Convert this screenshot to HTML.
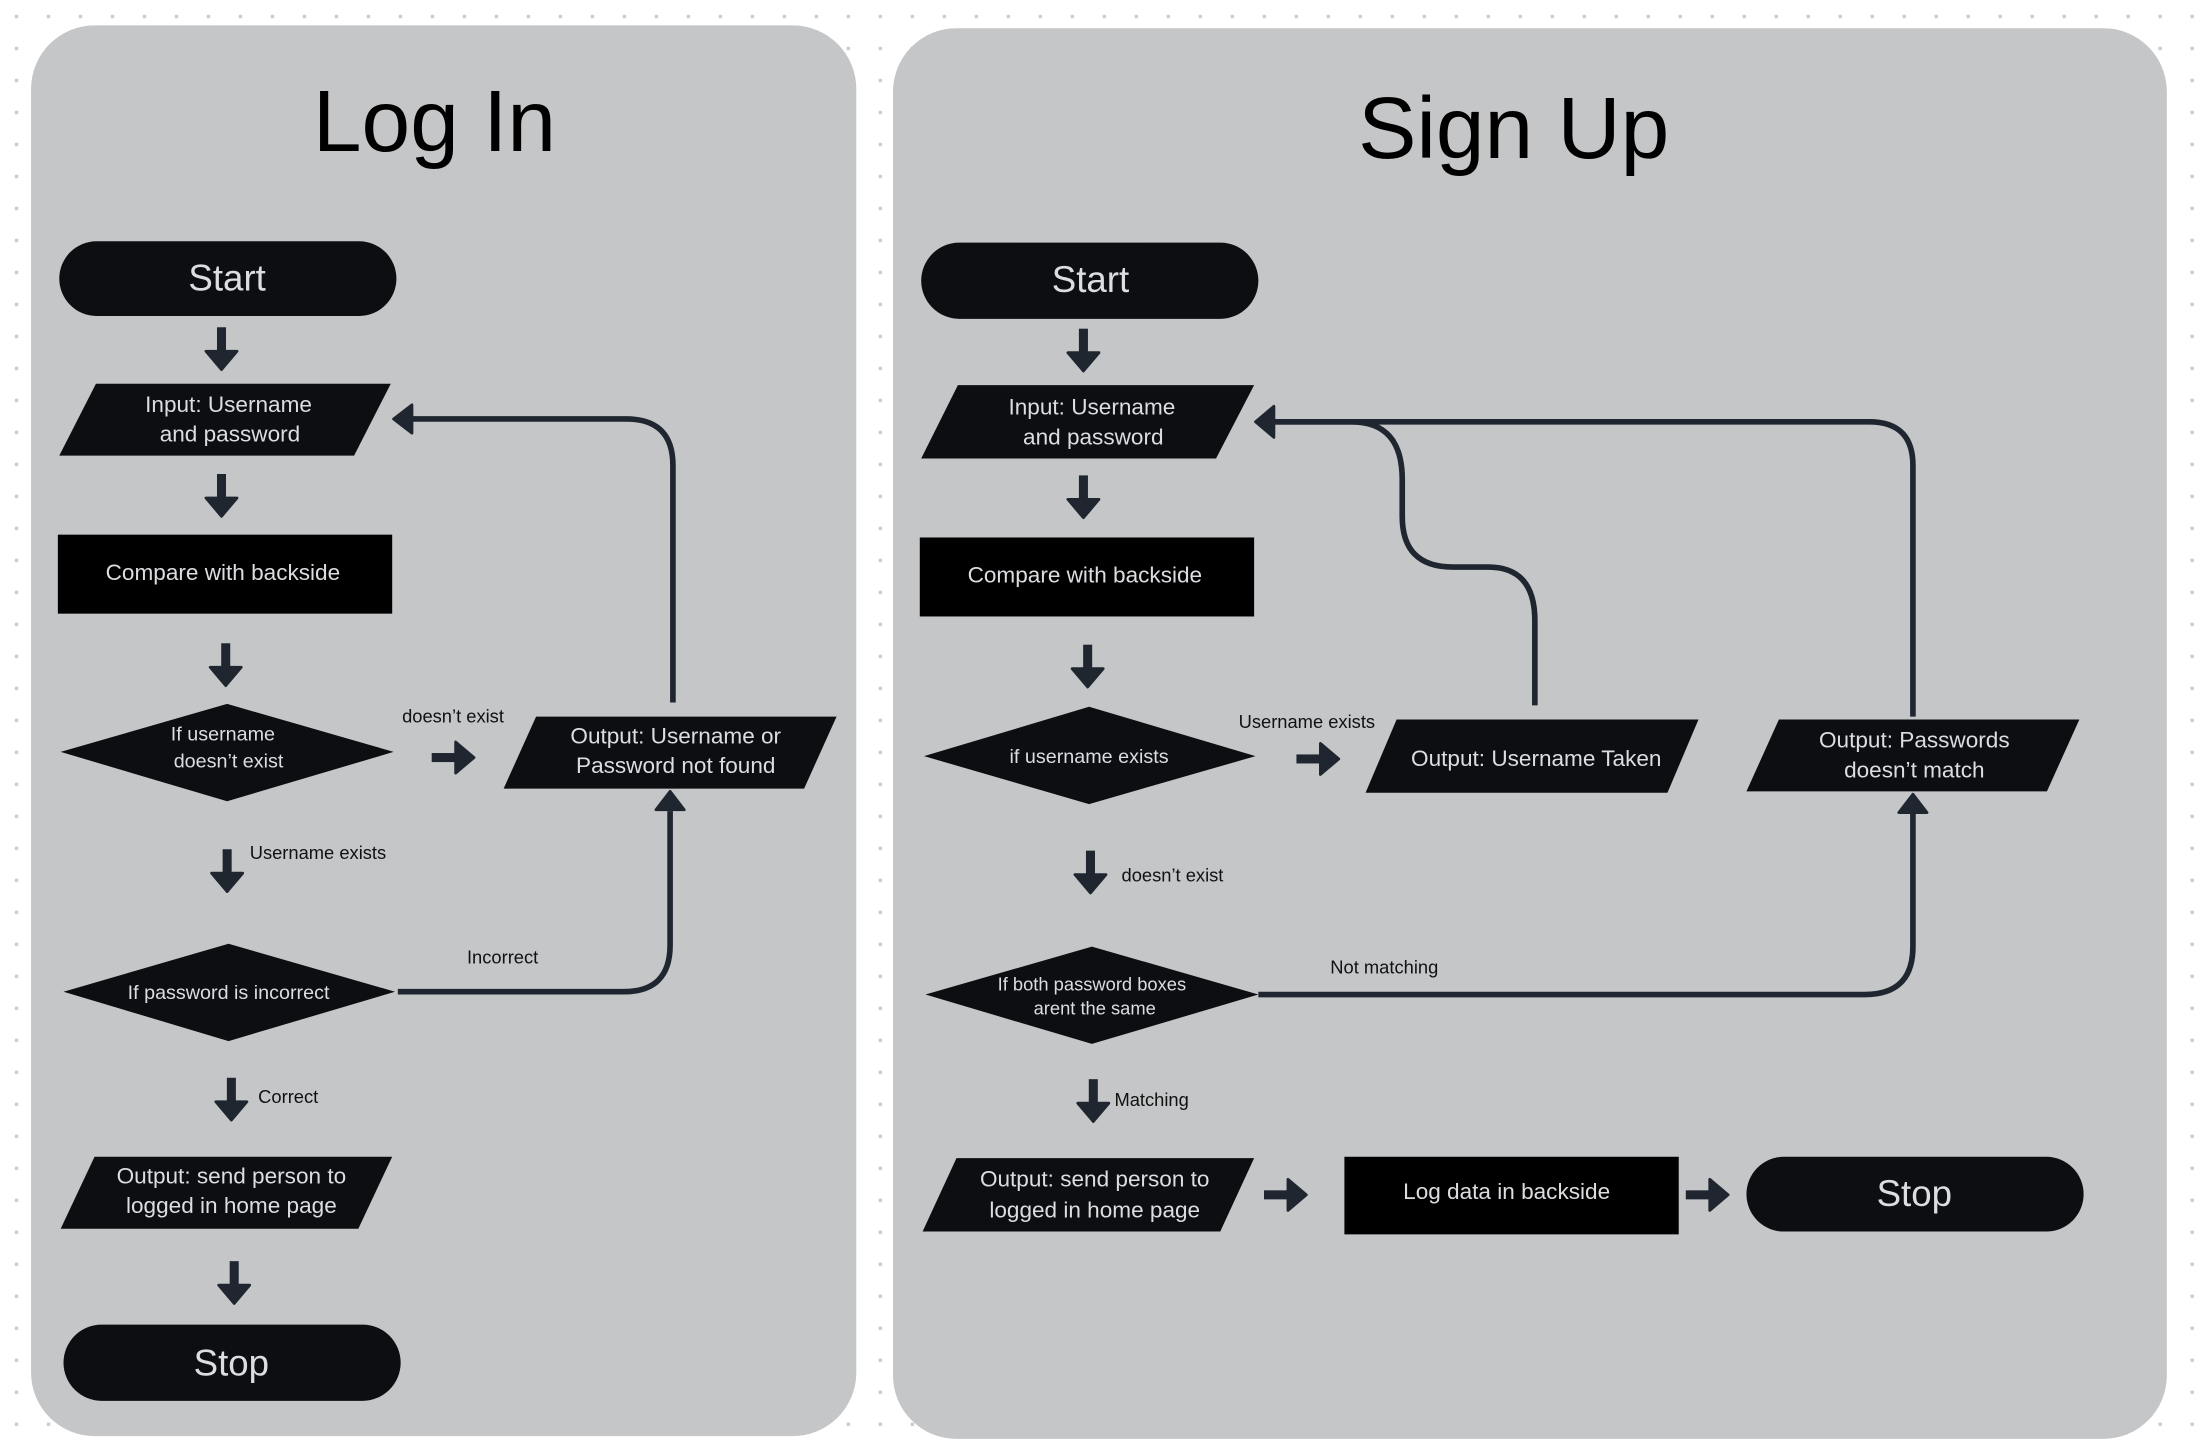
<!DOCTYPE html>
<html><head><meta charset="utf-8"><style>
html,body{margin:0;padding:0;background:#fff;}
svg{display:block;}
.t{font-family:"Liberation Sans",sans-serif;fill:#dcdde0;text-anchor:middle;}
.l{font-family:"Liberation Sans",sans-serif;fill:#111;font-size:13px;}
.n{fill:#0d0e11;}
.c{fill:none;stroke:#1f2630;stroke-width:4;}
.a{fill:#1f2630;}
</style></head><body>
<svg width="2212" height="1454" viewBox="0 0 1568 1030.7" xmlns="http://www.w3.org/2000/svg">
<defs>
<pattern id="dots" x="10.5" y="10.5" width="22.68" height="22.68" patternUnits="userSpaceOnUse">
<rect x="0" y="0" width="2.4" height="2.4" fill="#c9ccd3"/>
</pattern>
<g id="ad"><rect x="-3.2" y="-2" width="6.4" height="19" fill="#1f2630"/><polygon points="-11,15 11,15 0,28" fill="#1f2630" stroke="#1f2630" stroke-width="2" stroke-linejoin="round"/></g>
<g id="ar"><rect x="-2" y="-3.2" width="19" height="6.4" fill="#1f2630"/><polygon points="15,-11 15,11 28,0" fill="#1f2630" stroke="#1f2630" stroke-width="2" stroke-linejoin="round"/></g>
</defs>
<rect width="1568" height="1031" fill="url(#dots)"/>
<rect x="22" y="18" width="585" height="1000" rx="45" fill="#c5c6c8"/>
<rect x="633" y="20" width="903" height="1000" rx="45" fill="#c5c6c8"/>

<text x="308" y="107" font-family="Liberation Sans,sans-serif" font-size="62" text-anchor="middle" fill="#000">Log In</text>
<text x="1073" y="112" font-family="Liberation Sans,sans-serif" font-size="62" text-anchor="middle" fill="#000">Sign Up</text>

<!-- LEFT -->
<rect class="n" x="42" y="171" width="239" height="53" rx="26.5"/>
<text class="t" x="161" y="206" font-size="26">Start</text>
<use href="#ad" x="157" y="234"/>
<polygon class="n" points="42,323 68,272 277,272 251,323"/>
<text class="t" x="162" y="292" font-size="16">Input: Username</text>
<text class="t" x="163" y="313" font-size="16">and password</text>
<use href="#ad" x="157" y="338"/>
<rect x="41" y="379" width="237" height="56" fill="#000"/>
<text class="t" x="158" y="411" font-size="16">Compare with backside</text>
<use href="#ad" x="160" y="458"/>
<polygon class="n" points="43,533 161,499 279,533 161,568"/>
<text class="t" x="158" y="525" font-size="14">If username</text>
<text class="t" x="162" y="544" font-size="14">doesn’t exist</text>
<use href="#ar" x="308" y="537"/>
<text class="l" x="285" y="512">doesn’t exist</text>
<polygon class="n" points="357,559 380,508 593,508 570,559"/>
<text class="t" x="479" y="527" font-size="16">Output: Username or</text>
<text class="t" x="479" y="548" font-size="16">Password not found</text>
<path class="c" d="M477 498 V330 Q477 297 444 297 H292"/>
<polygon class="a" points="292,287 292,307 279,297" stroke="#1f2630" stroke-width="2" stroke-linejoin="round"/>
<use href="#ad" x="161" y="604"/>
<text class="l" x="177" y="609">Username exists</text>
<polygon class="n" points="45,703 162,669 280,703 162,738"/>
<text class="t" x="162" y="708" font-size="14">If password is incorrect</text>
<path class="c" d="M282 703 H442 Q475 703 475 670 V575"/>
<polygon class="a" points="465,574 485,574 475,561" stroke="#1f2630" stroke-width="2" stroke-linejoin="round"/>
<text class="l" x="331" y="683">Incorrect</text>
<use href="#ad" x="164" y="766"/>
<text class="l" x="183" y="782">Correct</text>
<polygon class="n" points="43,871 67,820 278,820 254,871"/>
<text class="t" x="164" y="839" font-size="16">Output: send person to</text>
<text class="t" x="164" y="860" font-size="16">logged in home page</text>
<use href="#ad" x="166" y="896"/>
<rect class="n" x="45" y="939" width="239" height="54" rx="27"/>
<text class="t" x="164" y="975" font-size="26">Stop</text>

<!-- RIGHT -->
<rect class="n" x="653" y="172" width="239" height="54" rx="27"/>
<text class="t" x="773" y="207" font-size="26">Start</text>
<use href="#ad" x="768" y="235"/>
<polygon class="n" points="653,325 679,273 889,273 862,325"/>
<text class="t" x="774" y="294" font-size="16">Input: Username</text>
<text class="t" x="775" y="315" font-size="16">and password</text>
<use href="#ad" x="768" y="339"/>
<rect x="652" y="381" width="237" height="56" fill="#000"/>
<text class="t" x="769" y="413" font-size="16">Compare with backside</text>
<use href="#ad" x="771" y="459"/>
<polygon class="n" points="655,536 772,501 890,536 772,570"/>
<text class="t" x="772" y="541" font-size="14">if username exists</text>
<use href="#ar" x="921" y="538"/>
<text class="l" x="878" y="516">Username exists</text>
<polygon class="n" points="968,562 990,510 1204,510 1182,562"/>
<text class="t" x="1089" y="543" font-size="16">Output: Username Taken</text>
<path class="c" d="M1088 500 V440 Q1088 402 1055 402 H1030 Q994 402 994 366 V340 Q994 299 958 299 H903"/>
<path class="c" d="M1356 508 V330 Q1356 299 1325 299 H903"/>
<polygon class="a" points="903,288 903,310 890,299" stroke="#1f2630" stroke-width="2" stroke-linejoin="round"/>
<polygon class="n" points="1238,561 1261,510 1474,510 1451,561"/>
<text class="t" x="1357" y="530" font-size="16">Output: Passwords</text>
<text class="t" x="1357" y="551" font-size="16">doesn’t match</text>
<use href="#ad" x="773" y="605"/>
<text class="l" x="795" y="625">doesn’t exist</text>
<polygon class="n" points="656,705 774,671 892,705 774,740"/>
<text class="t" x="774" y="702" font-size="13">If both password boxes</text>
<text class="t" x="776" y="719" font-size="13">arent the same</text>
<path class="c" d="M892 705 H1322 Q1356 705 1356 671 V577"/>
<polygon class="a" points="1346,576 1366,576 1356,563" stroke="#1f2630" stroke-width="2" stroke-linejoin="round"/>
<text class="l" x="943" y="690">Not matching</text>
<use href="#ad" x="775" y="767"/>
<text class="l" x="790" y="784">Matching</text>
<polygon class="n" points="654,873 678,821 889,821 865,873"/>
<text class="t" x="776" y="841" font-size="16">Output: send person to</text>
<text class="t" x="776" y="863" font-size="16">logged in home page</text>
<use href="#ar" x="898" y="847"/>
<rect x="953" y="820" width="237" height="55" fill="#000"/>
<text class="t" x="1068" y="850" font-size="16">Log data in backside</text>
<use href="#ar" x="1197" y="847"/>
<rect class="n" x="1238" y="820" width="239" height="53" rx="26.5"/>
<text class="t" x="1357" y="855" font-size="26">Stop</text>
</svg>
</body></html>
